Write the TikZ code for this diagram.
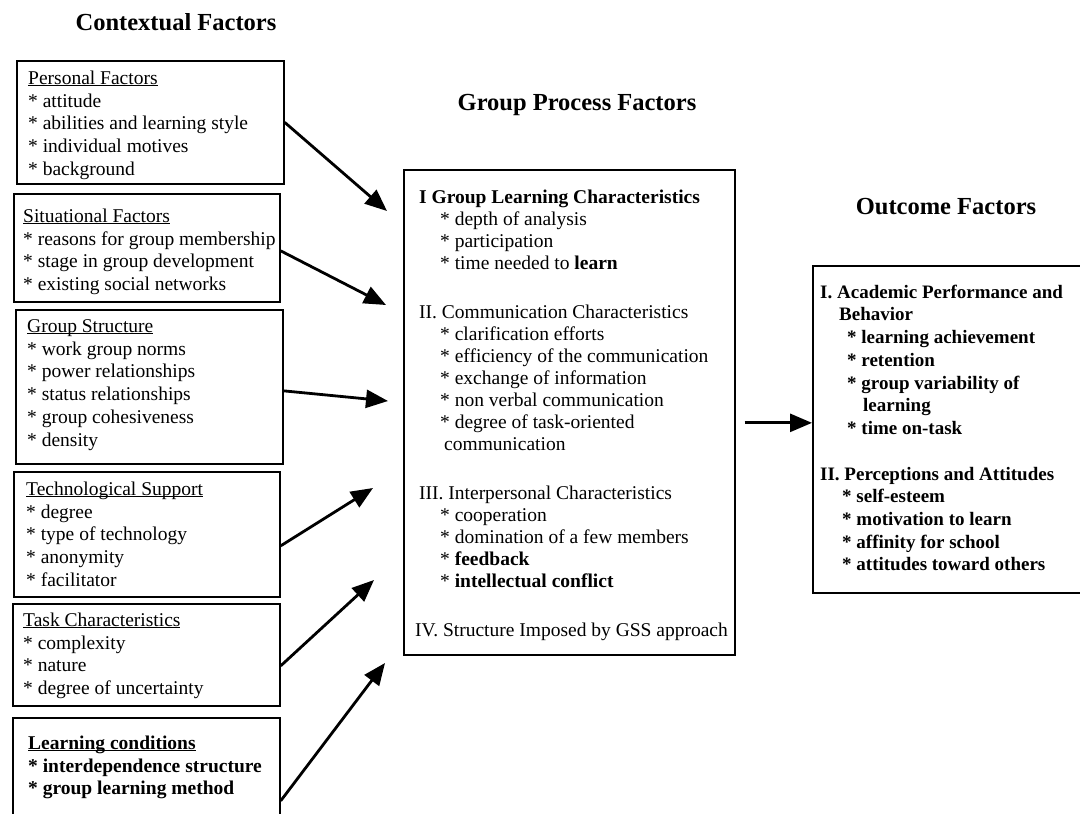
\documentclass[tikz,border=0pt]{standalone}
\usepackage{fontspec}
\setmainfont{Liberation Serif}
\usetikzlibrary{arrows.meta}
\newcommand{\firststrut}{\rule{0pt}{16pt}}
\newcommand{\ulh}[1]{\underline{\smash{#1}}}
\begin{document}
\begin{tikzpicture}[x=1pt,y=-1pt,
  box/.style={draw=black, line width=1.7pt, anchor=north west, inner sep=0pt},
  txt/.style={anchor=north west, inner sep=0pt, align=left, font=\fontsize{19.5}{22.8}\selectfont},
  ttl/.style={anchor=base, inner sep=0pt, font=\fontsize{24.5}{28}\selectfont\bfseries},
  arr/.style={line width=2.8pt, -{Triangle[length=22pt,width=18pt]}}
]
\clip (0,0) rectangle (1080,814);
\fill[white] (0,0) rectangle (1080,814);

% titles
\node[ttl] (tctx) at (176,30) {Contextual Factors};
\node[ttl] (tgrp) at (577,110) {Group Process Factors};
\node[ttl] (tout) at (946,214) {Outcome Factors};

% left boxes
\node[box, minimum width=267pt, minimum height=123pt] (pers) at (16,60) {};
\node[box, minimum width=266pt, minimum height=108pt] (sit) at (13,193) {};
\node[box, minimum width=267pt, minimum height=154pt] (gs) at (15,309) {};
\node[box, minimum width=266pt, minimum height=125pt] (tech) at (13,471) {};
\node[box, minimum width=267pt, minimum height=102pt] (task) at (12,603) {};
\node[box, minimum width=267pt, minimum height=130pt] (lc) at (12,717) {};

\node[txt] (perst) at (28,68) {\firststrut\ulh{Personal Factors}\\
* attitude\\
* abilities and learning style\\
* individual motives\\
* background};
\node[txt] (sitt) at (23,206) {\firststrut\ulh{Situational Factors}\\
* reasons for group membership\\
* stage in group development\\
* existing social networks};
\node[txt] (gst) at (27,316) {\firststrut\ulh{Group Structure}\\
* work group norms\\
* power relationships\\
* status relationships\\
* group cohesiveness\\
* density};
\node[txt] (techt) at (26,479) {\firststrut\ulh{Technological Support}\\
* degree\\
* type of technology\\
* anonymity\\
* facilitator};
\node[txt] (taskt) at (23,610) {\firststrut\ulh{Task Characteristics}\\
* complexity\\
* nature\\
* degree of uncertainty};
\node[txt, font=\fontsize{19.5}{22.8}\selectfont\bfseries] (lct) at (28,733) {\firststrut\ulh{Learning conditions}\\
* interdependence structure\\
* group learning method};

% middle box
\node[box, minimum width=331pt, minimum height=485pt] (mid) at (403,169) {};
\node[txt, font=\fontsize{19.5}{22}\selectfont] (midt) at (419,187) {\firststrut\textbf{I Group Learning Characteristics}\\
\hspace*{21pt}* depth of analysis\\
\hspace*{21pt}* participation\\
\hspace*{21pt}* time needed to \textbf{learn}\\[27pt]
II. Communication Characteristics\\
\hspace*{21pt}* clarification efforts\\
\hspace*{21pt}* efficiency of the communication\\
\hspace*{21pt}* exchange of information\\
\hspace*{21pt}* non verbal communication\\
\hspace*{21pt}* degree of task-oriented\\
\hspace*{25pt}communication\\[27pt]
III. Interpersonal Characteristics\\
\hspace*{21pt}* cooperation\\
\hspace*{21pt}* domination of a few members\\
\hspace*{21pt}* \textbf{feedback}\\
\hspace*{21pt}* \textbf{intellectual conflict}\\[27pt]
\hspace*{-4pt}IV. Structure Imposed by GSS approach};

% right box
\node[box, minimum width=290pt, minimum height=327pt] (out) at (812,265) {};
\node[txt, font=\fontsize{19}{22.7}\selectfont\bfseries] (outt) at (820,282) {\firststrut I. Academic Performance and\\
\hspace*{19pt}Behavior\\
\hspace*{27pt}* learning achievement\\
\hspace*{27pt}* retention\\
\hspace*{27pt}* group variability of\\
\hspace*{43pt}learning\\
\hspace*{27pt}* time on-task\\[23pt]
II. Perceptions and Attitudes\\
\hspace*{22pt}* self-esteem\\
\hspace*{22pt}* motivation to learn\\
\hspace*{22pt}* affinity for school\\
\hspace*{22pt}* attitudes toward others};

% arrow tips
\coordinate (t1) at (387,211);
\coordinate (t2) at (386,305);
\coordinate (t3) at (388,401);
\coordinate (t4) at (373,488);
\coordinate (t5) at (374,580);
\coordinate (t6) at (385,663);

\draw[arr] (pers.east) -- (t1);
\draw[arr] ([yshift=-3pt]sit.east) -- (t2);
\draw[arr] ([yshift=-4pt]gs.east) -- (t3);
\draw[arr] ([yshift=-11.5pt]tech.east) -- (t4);
\draw[arr] ([yshift=-11pt]task.east) -- (t5);
\draw[arr] ([yshift=-18pt]lc.east) -- (t6);
\draw[arr] ([shift={(9pt,-10.5pt)}]mid.east) -- ([yshift=6.5pt]out.west);
\end{tikzpicture}
\end{document}
